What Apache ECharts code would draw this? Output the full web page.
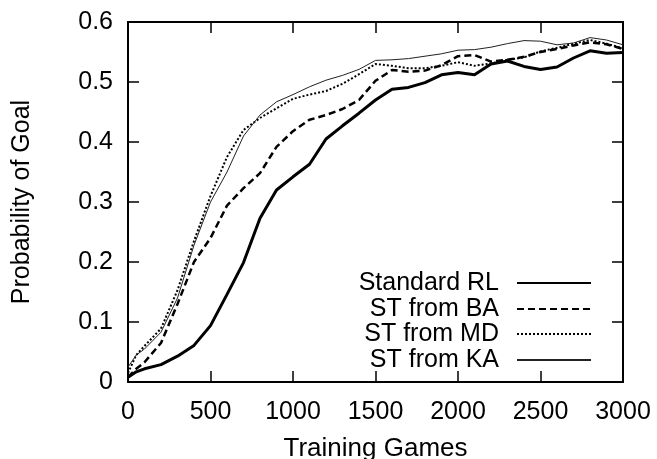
<!DOCTYPE html>
<html>
<head>
<meta charset="utf-8">
<script src="https://cdn.jsdelivr.net/npm/echarts@6/dist/echarts.min.js"></script>
<style>
  html, body { margin: 0; padding: 0; background: #fff; }
  #chart { width: 657px; height: 459px; }
</style>
</head>
<body>
<div id="chart"></div>
<script>
// training games (x) shared by all curves
const games = [0, 50, 100, 200, 300, 400, 500, 600, 700, 800, 900, 1000, 1100, 1200, 1300, 1400, 1500,
  1600, 1700, 1800, 1900, 2000, 2100, 2200, 2300, 2400, 2500, 2600, 2700, 2800, 2900, 3000]

const standardRL = [0.008, 0.017, 0.022, 0.029, 0.043, 0.061, 0.094, 0.146, 0.199, 0.273, 0.32, 0.342, 0.363, 0.405, 0.427, 0.448, 0.47,
  0.488, 0.491, 0.499, 0.512, 0.516, 0.512, 0.53, 0.535, 0.526, 0.521, 0.525, 0.54, 0.552, 0.548, 0.549]
const stFromBA = [0.008, 0.022, 0.033, 0.065, 0.13, 0.2, 0.24, 0.294, 0.323, 0.348, 0.392, 0.418, 0.437, 0.445, 0.455, 0.47, 0.502,
  0.52, 0.517, 0.519, 0.528, 0.543, 0.545, 0.534, 0.537, 0.542, 0.55, 0.555, 0.561, 0.566, 0.563, 0.555]
const stFromMD = [0.015, 0.045, 0.06, 0.089, 0.153, 0.235, 0.31, 0.375, 0.42, 0.44, 0.456, 0.472, 0.479, 0.485, 0.497, 0.513, 0.53,
  0.527, 0.523, 0.523, 0.527, 0.533, 0.527, 0.531, 0.537, 0.541, 0.551, 0.557, 0.564, 0.57, 0.564, 0.556]
const stFromKA = [0.025, 0.045, 0.055, 0.083, 0.14, 0.228, 0.3, 0.35, 0.41, 0.445, 0.467, 0.479, 0.492, 0.503, 0.511, 0.521, 0.536,
  0.537, 0.539, 0.543, 0.547, 0.553, 0.554, 0.558, 0.564, 0.569, 0.568, 0.562, 0.565, 0.574, 0.57, 0.562]

const seriesNames = ['Standard RL', 'ST from BA', 'ST from MD', 'ST from KA']
const xTicks = [0, 3000, 500]
const yTicks = [0, 0.6, 0.1]

const font = 'Liberation Sans, Arial, sans-serif'
const chart = echarts.init(document.getElementById('chart'))

function pairs(ys) {
  return games.map((g, i) => [g, ys[i]])
}

// one legend per entry so text is right-aligned with the sample on the right
const legendTops = [270, 296, 321, 347]
const legends = seriesNames.map((name, i) => ({
  data: [name],
  right: 65,
  top: legendTops[i],
  padding: 0,
  align: 'right',
  itemWidth: 74,
  itemHeight: 10,
  itemStyle: { opacity: 0 },
  textStyle: {
    fontFamily: font,
    fontSize: 25,
    color: '#000',
    lineHeight: 26,
    padding: [0, 13, 0, 0]
  },
  selectedMode: false
}))

function axisLine() {
  return { show: true, onZero: false, lineStyle: { color: '#000', width: 2 } }
}
function tick() {
  return { show: true, inside: true, length: 11, lineStyle: { color: '#000', width: 1.5 } }
}

const option = {
  animation: false,
  backgroundColor: '#fff',
  grid: { left: 128, right: 34, top: 22, bottom: 77, containLabel: false, outerBoundsMode: 'none' },
  legend: legends,
  xAxis: [
    {
      type: 'value',
      min: xTicks[0], max: xTicks[1], interval: xTicks[2],
      axisLine: axisLine(),
      axisTick: tick(),
      splitLine: { show: false },
      axisLabel: { fontFamily: font, fontSize: 25, color: '#000', margin: 18, formatter: v => String(v) },
      name: 'Training Games',
      nameLocation: 'middle',
      nameGap: 54,
      nameTextStyle: { fontFamily: font, fontSize: 26, color: '#000' }
    },
    {
      type: 'value', position: 'top',
      min: xTicks[0], max: xTicks[1], interval: xTicks[2],
      axisLine: axisLine(),
      axisTick: tick(),
      splitLine: { show: false },
      axisLabel: { show: false }
    }
  ],
  yAxis: [
    {
      type: 'value',
      min: yTicks[0], max: yTicks[1], interval: yTicks[2],
      axisLine: axisLine(),
      axisTick: tick(),
      splitLine: { show: false },
      axisLabel: { fontFamily: font, fontSize: 25, color: '#000', margin: 15 },
      name: 'Probability of Goal',
      nameLocation: 'middle',
      nameGap: 93,
      nameTextStyle: { fontFamily: font, fontSize: 25, color: '#000' }
    },
    {
      type: 'value', position: 'right',
      min: yTicks[0], max: yTicks[1], interval: yTicks[2],
      axisLine: axisLine(),
      axisTick: tick(),
      splitLine: { show: false },
      axisLabel: { show: false }
    }
  ],
  series: [
    {
      name: seriesNames[0], type: 'line', symbol: 'none',
      data: pairs(standardRL),
      lineStyle: { color: '#000', width: 3 },
      itemStyle: { color: '#000' }
    },
    {
      name: seriesNames[1], type: 'line', symbol: 'none',
      data: pairs(stFromBA),
      lineStyle: { color: '#000', width: 2.5, type: [7, 4] },
      itemStyle: { color: '#000' }
    },
    {
      name: seriesNames[2], type: 'line', symbol: 'none',
      data: pairs(stFromMD),
      lineStyle: { color: '#000', width: 2, type: [2, 2] },
      itemStyle: { color: '#000' }
    },
    {
      name: seriesNames[3], type: 'line', symbol: 'none',
      data: pairs(stFromKA),
      lineStyle: { color: '#222', width: 1 },
      itemStyle: { color: '#222' }
    }
  ]
}

chart.setOption(option)
</script>
</body>
</html>
